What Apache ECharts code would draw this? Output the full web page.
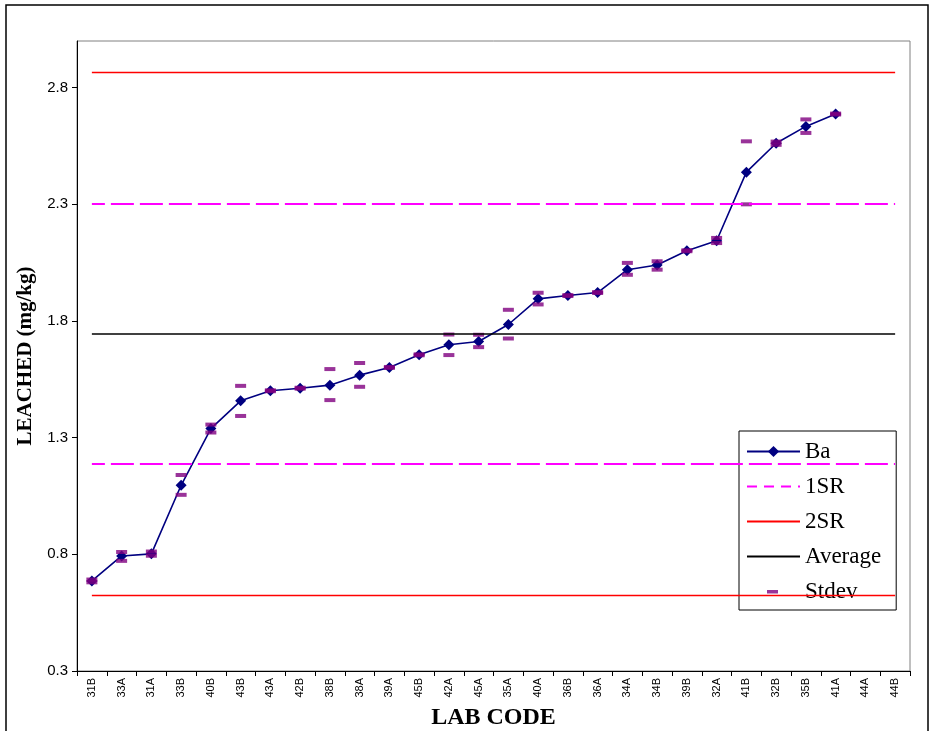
<!DOCTYPE html>
<html><head><meta charset="utf-8">
<script src="https://cdn.jsdelivr.net/npm/echarts@6/dist/echarts.min.js"></script>
<style>html,body{margin:0;padding:0;background:#fff}#c{width:931px;height:731px}</style>
</head><body><div id="c"></div>
<script>
const categories = ['31B','33A','31A','33B','40B','43B','43A','42B','38B','38A','39A','45B','42A','45A','35A','40A','36B','36A','34A','34B','39B','32A','41B','32B','35B','41A','44A','44B'];
const baValues = [0.686,0.793,0.802,1.096,1.339,1.458,1.501,1.512,1.525,1.568,1.601,1.655,1.698,1.712,1.785,1.895,1.909,1.922,2.020,2.040,2.101,2.144,2.438,2.562,2.634,2.687,null,null];
const stdevHigh = [0.692,0.810,0.812,1.140,1.356,1.522,1.503,1.514,1.594,1.620,1.603,1.657,1.742,1.741,1.848,1.921,1.911,1.924,2.049,2.056,2.103,2.156,2.570,2.569,2.664,2.689,null,null];
const stdevLow  = [0.680,0.772,0.794,1.055,1.322,1.393,1.499,1.510,1.461,1.518,1.599,1.653,1.654,1.688,1.725,1.871,1.907,1.920,1.998,2.020,2.099,2.134,2.300,2.555,2.606,2.685,null,null];
const averageValue = 1.745;
const sr1 = [1.188, 2.302];
const sr2 = [0.626, 2.864];
const yTicks = [0.3, 0.8, 1.3, 1.8, 2.3, 2.8];

const stdevData = [];
categories.forEach((c, i) => {
  if (stdevHigh[i] != null) stdevData.push([c, stdevHigh[i]]);
  if (stdevLow[i] != null) stdevData.push([c, stdevLow[i]]);
});
const first = categories[0], last = categories[categories.length - 1];
const hLine = v => [{xAxis: first, yAxis: v}, {xAxis: last, yAxis: v}];

const chart = echarts.init(document.getElementById('c'), null, {renderer: 'canvas'});
chart.setOption({
  animation: false,
  backgroundColor: '#fff',
  graphic: [{type: 'rect', shape: {x: 6, y: 5, width: 922, height: 740}, style: {fill: 'none', stroke: '#000', lineWidth: 1.5}, silent: true}],
  grid: {left: 77, top: 41, right: 21, bottom: 60, show: true, borderColor: '#808080', borderWidth: 1,
    containLabel: false, outerBoundsMode: 'none'},
  legend: {
    orient: 'vertical', left: 739, top: 431,
    backgroundColor: '#fff', borderColor: '#000', borderWidth: 1,
    padding: [9, 15, 7, 7], itemGap: 12, itemWidth: 53, itemHeight: 14,
    textStyle: {fontFamily: 'Liberation Serif', fontSize: 23, color: '#000'},
    data: [
      {name: 'Ba'}, {name: '1SR'}, {name: '2SR'}, {name: 'Average'},
      {name: 'Stdev', icon: 'path://M0,0L0,0M53,14L53,14M20,5.5L31,5.5L31,9L20,9Z'}
    ]
  },
  xAxis: {
    type: 'category', data: categories, boundaryGap: true,
    name: 'LAB CODE', nameLocation: 'middle', nameGap: 33,
    nameTextStyle: {fontFamily: 'Liberation Serif', fontSize: 24, fontWeight: 'bold', color: '#000'},
    axisLine: {lineStyle: {color: '#000', width: 1}},
    axisTick: {show: true, length: 5, lineStyle: {color: '#000'}},
    axisLabel: {rotate: 90, interval: 0, fontFamily: 'Liberation Sans', fontSize: 11, color: '#000', margin: 7},
    splitLine: {show: false}
  },
  yAxis: {
    type: 'value', min: 0.3, max: 3.0,
    name: 'LEACHED (mg/kg)', nameLocation: 'middle', nameGap: 36,
    nameTextStyle: {fontFamily: 'Liberation Serif', fontSize: 21, fontWeight: 'bold', color: '#000'},
    axisLine: {show: true, lineStyle: {color: '#000', width: 1}},
    axisTick: {show: true, length: 5, lineStyle: {color: '#000'}, customValues: yTicks},
    axisLabel: {fontFamily: 'Liberation Sans', fontSize: 15, color: '#000', margin: 9, customValues: yTicks,
      formatter: v => v.toFixed(1)},
    splitLine: {show: false}
  },
  series: [
    {name: '2SR', type: 'line', data: [], symbol: 'none', z: 1,
      lineStyle: {color: '#ff0000', width: 1.5}, itemStyle: {color: '#ff0000', opacity: 0},
      markLine: {silent: true, symbol: 'none', label: {show: false}, lineStyle: {color: '#ff0000', width: 1.3, type: 'solid', opacity: 1},
        data: [hLine(sr2[0]), hLine(sr2[1])]}},
    {name: '1SR', type: 'line', data: [], symbol: 'none', z: 1,
      lineStyle: {color: '#ff00ff', width: 2, type: [10, 7]}, itemStyle: {color: '#ff00ff', opacity: 0},
      markLine: {silent: true, symbol: 'none', label: {show: false}, lineStyle: {color: '#ff00ff', width: 2, type: [23, 6], dashOffset: 10, opacity: 1},
        data: [hLine(sr1[0]), hLine(sr1[1])]}},
    {name: 'Average', type: 'line', data: [], symbol: 'none', z: 1,
      lineStyle: {color: '#000', width: 1.5}, itemStyle: {color: '#000', opacity: 0},
      markLine: {silent: true, symbol: 'none', label: {show: false}, lineStyle: {color: '#000', width: 1.5, type: 'solid', opacity: 1},
        data: [hLine(averageValue)]}},
    {name: 'Ba', type: 'line', data: baValues, z: 3,
      symbol: 'diamond', symbolSize: 11, showAllSymbol: true, connectNulls: false,
      lineStyle: {color: '#000080', width: 1.6}, itemStyle: {color: '#000080'}},
    {name: 'Stdev', type: 'scatter', data: stdevData, z: 4,
      symbol: 'rect', symbolSize: [11, 4],
      itemStyle: {color: '#800080'}}
  ]
});
</script></body></html>
